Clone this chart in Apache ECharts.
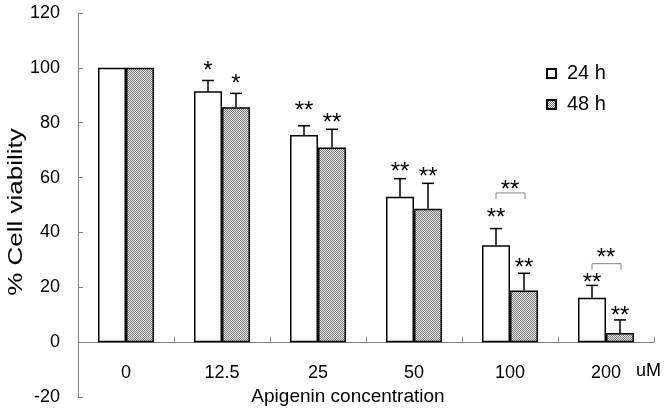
<!DOCTYPE html>
<html>
<head>
<meta charset="utf-8">
<script src="https://cdn.jsdelivr.net/npm/echarts@6/dist/echarts.min.js"></script>
<style>
html,body{margin:0;padding:0;background:#fff;}
#chart{width:668px;height:411px;}
</style>
</head>
<body>
<div id="chart"></div>
<script>
// ---- data ----
const categories = ['0', '12.5', '25', '50', '100', '200'];
const seriesNames = ['24 h', '48 h'];
const viability24 = [100, 91.5, 75.5, 53.0, 35.3, 16.2];
const viability48 = [100, 85.6, 71.0, 48.6, 18.8, 3.3];
const sd24 = [0, 3.9, 3.4, 6.6, 6.1, 4.5];
const sd48 = [0, 5.1, 6.6, 9.3, 6.3, 4.8];
const sig24 = ['', '*', '**', '**', '**', '**'];
const sig48 = ['', '*', '**', '**', '**', '**'];
const sigLevel24 = [null, 101.0, 86.5, 64.0, 47.3, 23.5];
const sigLevel48 = [null, 96.3, 81.8, 62.2, 29.2, 11.4];
const pairCategories = ['100', '200'];
const pairBracketLevel = [54.4, 28.6];
const pairSig = ['**', '**'];
const pairSigLevel = [57.5, 32.6];
const yTicks = [-20, 0, 20, 40, 60, 80, 100, 120];

// ---- styling ----
const FONT = '"Liberation Sans", Arial, sans-serif';
const BAR_W = 28;

const pat = document.createElement('canvas');
pat.width = 2; pat.height = 2;
const pctx = pat.getContext('2d');
pctx.fillStyle = '#e6e6e6'; pctx.fillRect(0, 0, 2, 2);
pctx.fillStyle = '#7a7a7a'; pctx.fillRect(0, 0, 1, 1); pctx.fillRect(1, 1, 1, 1);
const hatch = { image: pat, repeat: 'repeat' };

const errData = [];
categories.forEach((c, i) => {
  errData.push([i, viability24[i], sd24[i], -1]);
  errData.push([i, viability48[i], sd48[i], 1]);
});
const sigData = [];
categories.forEach((c, i) => {
  if (sig24[i]) sigData.push([i, sigLevel24[i], -1, sig24[i]]);
  if (sig48[i]) sigData.push([i, sigLevel48[i], 1, sig48[i]]);
});
const pairData = pairCategories.map((c, k) => [categories.indexOf(c), pairBracketLevel[k], pairSigLevel[k], pairSig[k]]);

const STAR_FONT = '24px ' + FONT;

const chart = echarts.init(document.getElementById('chart'), null, { renderer: 'canvas' });
chart.setOption({
  animation: false,
  backgroundColor: '#fff',
  textStyle: { fontFamily: FONT },
  grid: [
    { left: 78, right: 14, top: 13, bottom: 14, containLabel: false, outerBoundsMode: 'none' },
    // label grid: its bottom edge sits on the y = 0 line of the main grid
    { left: 78, right: 14, top: 13, bottom: 68, containLabel: false, outerBoundsMode: 'none' }
  ],
  legend: {
    data: seriesNames,
    orient: 'vertical',
    left: 541, top: 58,
    icon: 'rect',
    itemWidth: 9, itemHeight: 9,
    itemGap: 10,
    textStyle: { fontFamily: FONT, fontSize: 20, color: '#000', lineHeight: 21, padding: [0, 0, 0, 6] }
  },
  xAxis: [
    {
      type: 'category', gridIndex: 0,
      data: categories,
      axisLine: { onZero: true, lineStyle: { color: '#808080', width: 1 } },
      axisTick: { show: true, inside: true, length: 5, alignWithLabel: false, lineStyle: { color: '#808080' } },
      axisLabel: { show: false },
      splitLine: { show: false }
    },
    {
      type: 'category', gridIndex: 1,
      data: categories,
      axisLine: { show: false },
      axisTick: { show: false },
      axisLabel: { fontFamily: FONT, fontSize: 18, color: '#000', margin: 21 },
      name: 'Apigenin concentration',
      nameLocation: 'middle',
      nameGap: 44,
      nameTextStyle: { fontFamily: FONT, fontSize: 19, color: '#000', padding: [0, 36, 0, 0] },
      splitLine: { show: false }
    }
  ],
  yAxis: [
    {
      type: 'value', gridIndex: 0,
      min: yTicks[0], max: yTicks[yTicks.length - 1], interval: 20,
      axisLine: { show: true, lineStyle: { color: '#808080', width: 1 } },
      axisTick: { show: true, inside: true, length: 5, lineStyle: { color: '#808080' } },
      axisLabel: { fontFamily: FONT, fontSize: 18, color: '#000', margin: 18 },
      splitLine: { show: false }
    },
    {
      type: 'value', gridIndex: 1, min: 0, max: yTicks[yTicks.length - 1], show: false
    }
  ],
  graphic: [
    {
      type: 'text', x: 16, y: 212, rotation: Math.PI / 2, scaleX: 1.3,
      style: { text: '% Cell viability', font: '20px ' + FONT, fill: '#000', textAlign: 'center', textVerticalAlign: 'middle' }
    },
    {
      type: 'text', x: 636, y: 371,
      style: { text: 'uM', font: '18px ' + FONT, fill: '#000', textAlign: 'left', textVerticalAlign: 'middle' }
    }
  ],
  series: [
    {
      name: seriesNames[0], type: 'bar', data: viability24, barWidth: BAR_W, barGap: '0%',
      itemStyle: { color: '#fff', borderColor: '#000', borderWidth: 1.5 }, z: 2
    },
    {
      name: seriesNames[1], type: 'bar', data: viability48, barWidth: BAR_W, barGap: '0%',
      itemStyle: { color: hatch, borderColor: '#000', borderWidth: 1.5 }, z: 2
    },
    {
      type: 'custom', name: 'err', data: errData, z: 5, silent: true,
      renderItem: function (params, api) {
        const cat = api.value(0), m = api.value(1), e = api.value(2), side = api.value(3);
        if (!e) return null;
        const p0 = api.coord([cat, m]);
        const p1 = api.coord([cat, m + e]);
        const x = p0[0] + side * BAR_W / 2;
        return {
          type: 'group', children: [
            { type: 'line', shape: { x1: x, y1: p0[1], x2: x, y2: p1[1] }, style: { stroke: '#000', lineWidth: 1.5 } },
            { type: 'line', shape: { x1: x - 6, y1: p1[1], x2: x + 6, y2: p1[1] }, style: { stroke: '#000', lineWidth: 1.5 } }
          ]
        };
      }
    },
    {
      type: 'custom', name: 'sig', data: sigData, z: 6, silent: true,
      renderItem: function (params, api) {
        const cat = api.value(0), lvl = api.value(1), side = api.value(2);
        const txt = sigData[params.dataIndex][3];
        const p = api.coord([cat, lvl]);
        return {
          type: 'text', x: p[0] + side * BAR_W / 2, y: p[1] + 6,
          style: { text: txt, font: STAR_FONT, fill: '#000', textAlign: 'center', textVerticalAlign: 'middle' }
        };
      }
    },
    {
      type: 'custom', name: 'pair', data: pairData, z: 6, silent: true,
      renderItem: function (params, api) {
        const cat = api.value(0), lvl = api.value(1), slvl = api.value(2);
        const txt = pairData[params.dataIndex][3];
        const p = api.coord([cat, lvl]);
        const ps = api.coord([cat, slvl]);
        const xl = p[0] - BAR_W / 2, xr = p[0] + BAR_W / 2 + 1;
        return {
          type: 'group', children: [
            { type: 'polyline', shape: { points: [[xl, p[1] + 6], [xl, p[1]], [xr, p[1]], [xr, p[1] + 6]] }, style: { stroke: '#808080', lineWidth: 1, fill: null } },
            { type: 'text', x: p[0], y: ps[1] + 6, style: { text: txt, font: STAR_FONT, fill: '#000', textAlign: 'center', textVerticalAlign: 'middle' } }
          ]
        };
      }
    }
  ]
});
</script>
</body>
</html>
